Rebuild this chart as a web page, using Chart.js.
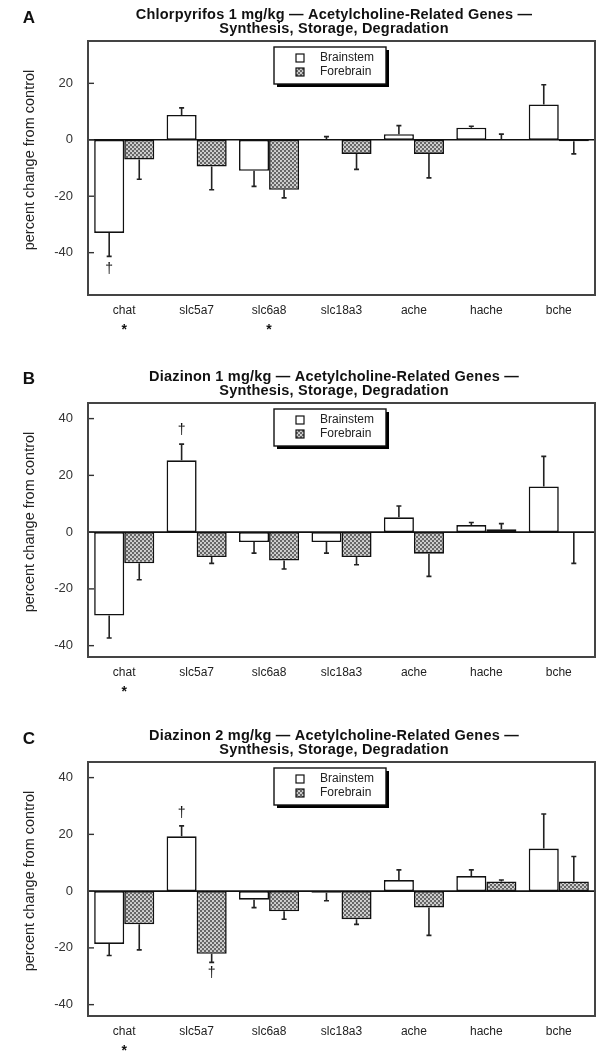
<!DOCTYPE html>
<html>
<head>
<meta charset="utf-8">
<script src="https://cdn.jsdelivr.net/npm/chart.js@4.4.1/dist/chart.umd.min.js"></script>
<style>
  body { margin:0; background:#fff; width:612px; height:1060px; position:relative; overflow:hidden; }
  canvas { position:absolute; left:0; }
</style>
</head>
<body>
<canvas id="chartA" width="612" height="350" style="top:0px"></canvas>
<canvas id="chartB" width="612" height="350" style="top:350px"></canvas>
<canvas id="chartC" width="612" height="360" style="top:700px"></canvas>
<script>
// =========================================
// DATOS
// =========================================
const genes = ['chat', 'slc5a7', 'slc6a8', 'slc18a3', 'ache', 'hache', 'bche'];
const seriesNames = ['Brainstem', 'Forebrain'];

// A - Chlorpyrifos 1 mg/kg
const brainA    = [-33, 8.8, -11, 0.3, 2, 4.3, 12.5];
const brainErrA = [8.3, 2.5, 5.5, 0.8, 3, 0.5, 7];
const foreA     = [-7, -9.5, -17.7, -5, -5, 0.2, -0.5];
const foreErrA  = [7, 8.2, 2.9, 5.5, 8.5, 1.8, 4.5];
const ticksA    = [-40, -20, 0, 20];
const starsA    = [1, 0, 1, 0, 0, 0, 0];
const daggersA  = [[0, 0, -46]];           // [gene, series, value]

// B - Diazinon 1 mg/kg
const brainB    = [-29.4, 25.3, -3.5, -3.5, 5.2, 2.5, 16.1];
const brainErrB = [7.9, 5.7, 3.9, 3.9, 4, 0.9, 10.6];
const foreB     = [-11, -8.8, -10, -8.8, -7.6, 1, -0.3];
const foreErrB  = [5.8, 2.2, 3, 2.7, 8, 2, 10.7];
const ticksB    = [-40, -20, 0, 20, 40];
const starsB    = [1, 0, 0, 0, 0, 0, 0];
const daggersB  = [[1, 0, 36]];

// C - Diazinon 2 mg/kg
const brainC    = [-18.6, 19.3, -3, -0.6, 3.9, 5.3, 15];
const brainErrC = [4.1, 3.7, 2.8, 2.8, 3.6, 2.2, 12.2];
const foreC     = [-11.7, -22.1, -7.1, -9.9, -5.8, 3.4, 3.4];
const foreErrC  = [9, 3, 2.8, 1.8, 9.8, 0.5, 8.8];
const ticksC    = [-40, -20, 0, 20, 40];
const starsC    = [1, 0, 0, 0, 0, 0, 0];
const daggersC  = [[1, 0, 27.5], [1, 1, -29]];

const yTitle = 'percent change from control';
const FONT = "'Liberation Sans', Arial, Helvetica, sans-serif";

// =========================================
// TRAMA (Forebrain)
// =========================================
function makePattern(){
  const c = document.createElement('canvas');
  c.width = 4; c.height = 4;
  const g = c.getContext('2d');
  g.fillStyle = '#666';
  g.fillRect(0, 0, 4, 4);
  g.fillStyle = '#dcdcdc';
  g.beginPath(); g.arc(1, 1, 1.05, 0, Math.PI * 2); g.fill();
  g.beginPath(); g.arc(3, 3, 1.05, 0, Math.PI * 2); g.fill();
  return document.createElement('canvas').getContext('2d').createPattern(c, 'repeat');
}
const hatch = makePattern();

// =========================================
// PLUGIN: caja, ticks, errores, leyenda, titulos
// =========================================
const deco = {
  id: 'deco',
  afterDatasetsDraw(chart){
    const ctx = chart.ctx;
    const a = chart.chartArea;
    const y = chart.scales.y;
    const x = chart.scales.x;
    const p = chart.options.plugins.deco;

    ctx.save();

    // error bars
    chart.data.datasets.forEach((ds, i) => {
      const meta = chart.getDatasetMeta(i);
      meta.data.forEach((bar, j) => {
        const v = ds.data[j];
        const e = ds.errors[j];
        const dir = v >= 0 ? 1 : -1;
        const y0 = y.getPixelForValue(v);
        const y1 = y.getPixelForValue(v + dir * e);
        ctx.strokeStyle = '#222';
        ctx.lineWidth = 1.6;
        ctx.beginPath();
        ctx.moveTo(bar.x, y0); ctx.lineTo(bar.x, y1);
        ctx.moveTo(bar.x - 2.5, y1); ctx.lineTo(bar.x + 2.5, y1);
        ctx.stroke();
      });
    });

    // zero line
    const y0 = y.getPixelForValue(0);
    ctx.strokeStyle = '#111';
    ctx.lineWidth = 1.6;
    ctx.beginPath(); ctx.moveTo(a.left, y0); ctx.lineTo(a.right, y0); ctx.stroke();

    // ticks inside
    ctx.strokeStyle = '#333';
    ctx.lineWidth = 1.4;
    p.ticks.forEach(t => {
      const ty = y.getPixelForValue(t);
      ctx.beginPath(); ctx.moveTo(a.left, ty); ctx.lineTo(a.left + 6, ty); ctx.stroke();
    });

    // box
    ctx.strokeStyle = '#444';
    ctx.lineWidth = 2;
    ctx.strokeRect(a.left, a.top, a.right - a.left, a.bottom - a.top);

    // legend
    const lx = 274, ly = a.top + 6, lw = 112, lh = 37;
    ctx.fillStyle = '#000';
    ctx.fillRect(lx + 3, ly + 3, lw, lh);
    ctx.fillStyle = '#fff';
    ctx.fillRect(lx, ly, lw, lh);
    ctx.strokeStyle = '#111';
    ctx.lineWidth = 1.4;
    ctx.strokeRect(lx, ly, lw, lh);
    chart.data.datasets.forEach((ds, i) => {
      const ry = ly + 11 + i * 14;
      ctx.fillStyle = ds.backgroundColor;
      ctx.fillRect(lx + 22, ry - 4, 8, 8);
      ctx.strokeStyle = '#111';
      ctx.lineWidth = 1.2;
      ctx.strokeRect(lx + 22, ry - 4, 8, 8);
      ctx.fillStyle = '#222';
      ctx.font = '12px ' + FONT;
      ctx.textAlign = 'left';
      ctx.textBaseline = 'middle';
      ctx.fillText(ds.label, lx + 46, ry);
    });

    // daggers
    ctx.fillStyle = '#111';
    ctx.font = '14px ' + FONT;
    ctx.textAlign = 'center';
    ctx.textBaseline = 'middle';
    p.daggers.forEach(d => {
      const bar = chart.getDatasetMeta(d[1]).data[d[0]];
      ctx.fillText('\u2020', bar.x, y.getPixelForValue(d[2]));
    });

    // asterisks
    ctx.font = 'bold 14px ' + FONT;
    p.stars.forEach((s, j) => {
      if (s) ctx.fillText('*', x.getPixelForValue(j), a.bottom + 35);
    });

    // y axis title
    ctx.save();
    ctx.translate(30, (a.top + a.bottom) / 2 - 8);
    ctx.rotate(-Math.PI / 2);
    ctx.fillStyle = '#222';
    ctx.font = '14.5px ' + FONT;
    ctx.fillText(yTitle, 0, 0);
    ctx.restore();

    // title + letter
    ctx.fillStyle = '#111';
    ctx.font = 'bold 14.5px ' + FONT;
    ctx.letterSpacing = '0.2px';
    ctx.fillText(p.title[0], 334, p.titleY);
    ctx.fillText(p.title[1], 334, p.titleY + 14);
    ctx.letterSpacing = '0px';
    ctx.font = 'bold 17px ' + FONT;
    ctx.fillText(p.letter, 29, p.letterY);

    ctx.restore();
  }
};

// =========================================
// GRAFICOS
// =========================================
function panel(id, brain, brainErr, fore, foreErr, ticks, range, stars, daggers, title, letter, top, titleY, letterY, axisH){
  return new Chart(document.getElementById(id), {
    type: 'bar',
    data: {
      labels: genes,
      datasets: [
        { label: seriesNames[0], data: brain, errors: brainErr, backgroundColor: '#ffffff',
          borderColor: '#111', borderWidth: 1.6, borderSkipped: false },
        { label: seriesNames[1], data: fore, errors: foreErr, backgroundColor: hatch,
          borderColor: '#111', borderWidth: 1.6, borderSkipped: false }
      ]
    },
    options: {
      responsive: false,
      animation: false,
      devicePixelRatio: 1,
      layout: { padding: { top: top, right: 17, left: 0, bottom: 0 } },
      datasets: { bar: { categoryPercentage: 0.83, barPercentage: 1.0 } },
      scales: {
        x: {
          grid: { display: false, drawTicks: false },
          border: { display: false },
          ticks: { color: '#222', font: { family: FONT, size: 12 }, padding: 8 },
          afterFit: s => { s.height = axisH; }
        },
        y: {
          min: range[0], max: range[1],
          grid: { display: false, drawTicks: false },
          border: { display: false },
          afterBuildTicks: s => { s.ticks = ticks.map(v => ({ value: v })); },
          ticks: { color: '#333', font: { family: FONT, size: 13 }, padding: 15 },
          afterFit: s => { s.width = 88; }
        }
      },
      plugins: {
        legend: { display: false },
        tooltip: { enabled: false },
        deco: { ticks: ticks, stars: stars, daggers: daggers, title: title, letter: letter,
                titleY: titleY, letterY: letterY }
      }
    },
    plugins: [deco]
  });
}

panel('chartA', brainA, brainErrA, foreA, foreErrA, ticksA, [-55, 35], starsA, daggersA,
  ['Chlorpyrifos 1 mg/kg \u2014 Acetylcholine-Related Genes \u2014', 'Synthesis, Storage, Degradation'],
  'A', 41, 15, 18, 55);

panel('chartB', brainB, brainErrB, foreB, foreErrB, ticksB, [-44, 45.5], starsB, daggersB,
  ['Diazinon 1 mg/kg \u2014 Acetylcholine-Related Genes \u2014', 'Synthesis, Storage, Degradation'],
  'B', 53, 27, 29, 43);

panel('chartC', brainC, brainErrC, foreC, foreErrC, ticksC, [-44, 45.5], starsC, daggersC,
  ['Diazinon 2 mg/kg \u2014 Acetylcholine-Related Genes \u2014', 'Synthesis, Storage, Degradation'],
  'C', 62, 36, 39, 44);
</script>
</body>
</html>
